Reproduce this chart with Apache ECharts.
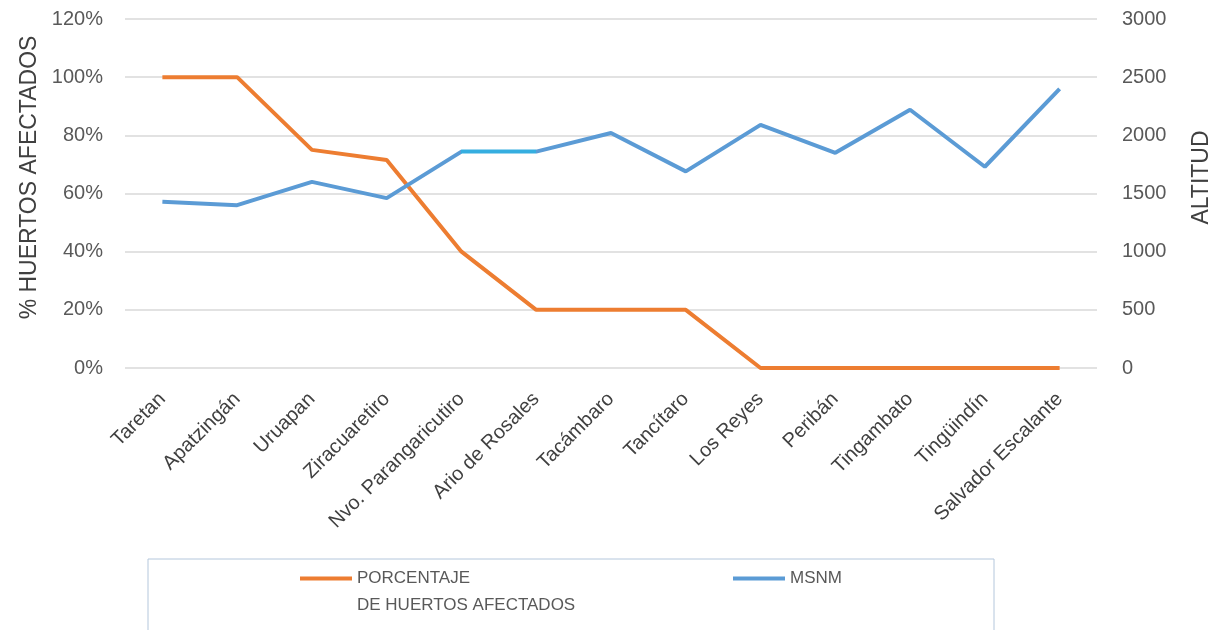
<!DOCTYPE html>
<html>
<head>
<meta charset="utf-8">
<script src="https://cdn.jsdelivr.net/npm/echarts@6/dist/echarts.min.js"></script>
<style>
  html, body { margin: 0; padding: 0; background: #fff; }
  #chart { width: 1220px; height: 630px; }
</style>
</head>
<body>
<div id="chart"></div>
<script>
const municipios = ['Taretan', 'Apatzingán', 'Uruapan', 'Ziracuaretiro', 'Nvo. Parangaricutiro', 'Ario de Rosales',
    'Tacámbaro', 'Tancítaro', 'Los Reyes', 'Peribán', 'Tingambato', 'Tingüindín', 'Salvador Escalante']
const porcentaje = [100, 100, 75, 71.5, 40, 20, 20, 20, 0, 0, 0, 0, 0]
const msnm = [1430, 1400, 1600, 1460, 1860, 1860, 2020, 1690, 2090, 1850, 2220, 1730, 2400]
const pctTicks = [0, 120, 20]
const altTicks = [0, 3000, 500]

const FONT = '"Liberation Sans", Arial, sans-serif'
const myChart = echarts.init(document.getElementById('chart'))

const option = {
    animation: false,
    textStyle: { fontFamily: FONT },
    color: ['#ED7D31', '#5B9BD5'],
    grid: { left: 125, right: 123, top: 19, bottom: 262, containLabel: false, outerBoundsMode: 'none' },
    legend: [
        {
            data: ['PORCENTAJE DE HUERTOS AFECTADOS'],
            left: 300, top: 538,
            padding: 0,
            icon: 'rect', itemWidth: 52, itemHeight: 4,
            // blank first line so the icon sits on "PORCENTAJE"
            formatter: () => '\u00a0\nPORCENTAJE\nDE HUERTOS AFECTADOS',
            textStyle: { fontSize: 17, color: '#595959', lineHeight: 27 }
        },
        {
            data: ['MSNM'],
            left: 733, top: 570,
            padding: 0,
            icon: 'rect', itemWidth: 52, itemHeight: 4,
            textStyle: { fontSize: 17, color: '#595959' }
        }
    ],
    graphic: [{
        type: 'rect',
        shape: { x: 148, y: 559, width: 846, height: 80 },
        style: { fill: 'none', stroke: '#b4c7dc', lineWidth: 1 },
        silent: true
    }],
    visualMap: {
        show: false,
        seriesIndex: 1,
        dimension: 0,
        pieces: [{ gte: 4, lte: 5, color: '#35aee0' }],
        outOfRange: { color: '#5B9BD5' }
    },
    xAxis: {
        type: 'category',
        data: municipios,
        boundaryGap: true,
        axisLine: { show: false },
        axisTick: { show: false },
        axisLabel: { interval: 0, rotate: 45, fontSize: 20, color: '#404040', margin: 28 }
    },
    yAxis: [
        {
            type: 'value',
            min: pctTicks[0], max: pctTicks[1], interval: pctTicks[2],
            name: '% HUERTOS AFECTADOS',
            nameLocation: 'middle', nameGap: 82,
            nameTextStyle: { fontSize: 23, color: '#404040', padding: [0, 0, 0, 32] },
            axisLabel: { formatter: '{value}%', fontSize: 20, color: '#595959', margin: 22 },
            axisLine: { show: false }, axisTick: { show: false },
            splitLine: { lineStyle: { color: '#d9d9d9', width: 1.5 } }
        },
        {
            type: 'value',
            min: altTicks[0], max: altTicks[1], interval: altTicks[2],
            name: 'ALTITUD',
            nameLocation: 'middle', nameGap: 93,
            nameTextStyle: { fontSize: 23, color: '#404040', padding: [0, 0, 0, 32] },
            axisLabel: { formatter: v => String(v), fontSize: 20, color: '#595959', margin: 25 },
            axisLine: { show: false }, axisTick: { show: false },
            splitLine: { show: false }
        }
    ],
    series: [
        {
            name: 'PORCENTAJE DE HUERTOS AFECTADOS',
            type: 'line',
            yAxisIndex: 0,
            showSymbol: false,
            lineStyle: { width: 4, color: '#ED7D31' },
            itemStyle: { color: '#ED7D31' },
            data: porcentaje
        },
        {
            name: 'MSNM',
            type: 'line',
            yAxisIndex: 1,
            showSymbol: false,
            lineStyle: { width: 4 },
            itemStyle: { color: '#5B9BD5' },
            data: msnm
        }
    ]
}
myChart.setOption(option)
</script>
</body>
</html>
